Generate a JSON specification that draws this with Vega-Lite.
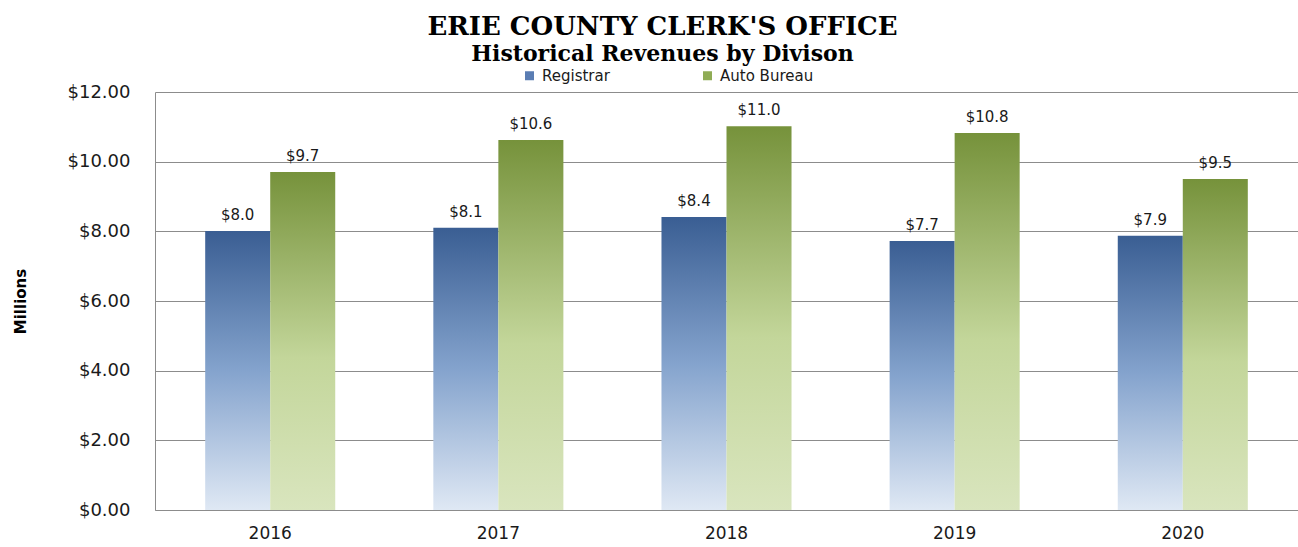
{
  "$schema": "https://vega.github.io/schema/vega-lite/v6.json",
  "autosize": {"type": "none"},
  "width": 1143,
  "height": 418,
  "padding": {"left": 155, "top": 92, "right": 0, "bottom": 37},
  "background": "white",
  "title": {
    "text": "ERIE COUNTY CLERK'S OFFICE",
    "subtitle": "Historical Revenues by Divison",
    "anchor": "middle",
    "frame": "group",
    "dx": -64,
    "offset": 3,
    "font": "DejaVu Serif",
    "fontSize": 26,
    "fontWeight": "bold",
    "color": "#000000",
    "subtitleFont": "DejaVu Serif",
    "subtitleFontSize": 22,
    "subtitleFontWeight": "bold",
    "subtitleColor": "#000000",
    "subtitlePadding": 4
  },
  "data": {
    "values": [
      {"year": "2016", "division": "Registrar", "value": 8.01},
      {"year": "2016", "division": "Auto Bureau", "value": 9.70},
      {"year": "2017", "division": "Registrar", "value": 8.10},
      {"year": "2017", "division": "Auto Bureau", "value": 10.62},
      {"year": "2018", "division": "Registrar", "value": 8.41},
      {"year": "2018", "division": "Auto Bureau", "value": 11.02},
      {"year": "2019", "division": "Registrar", "value": 7.72},
      {"year": "2019", "division": "Auto Bureau", "value": 10.82},
      {"year": "2020", "division": "Registrar", "value": 7.87},
      {"year": "2020", "division": "Auto Bureau", "value": 9.50}
    ]
  },
  "encoding": {
    "x": {
      "field": "year",
      "type": "nominal",
      "scale": {"paddingInner": 0.43, "paddingOuter": 0.22},
      "axis": {
        "title": null,
        "labelAngle": 0,
        "ticks": false,
        "labelPadding": 15,
        "labelFont": "DejaVu Sans",
        "labelFontSize": 17,
        "labelColor": "#1a1a1a",
        "domainColor": "#8c8c8c",
        "grid": false
      }
    },
    "xOffset": {"field": "division", "type": "nominal", "scale": {"domain": ["Registrar", "Auto Bureau"], "paddingInner": 0, "paddingOuter": 0}},
    "y": {
      "field": "value",
      "type": "quantitative",
      "scale": {"domain": [0, 12], "nice": false},
      "axis": {
        "title": "Millions",
        "titleFont": "DejaVu Sans",
        "titleFontSize": 15,
        "titleFontWeight": "bold",
        "titleColor": "#000000",
        "titleX": -135,
        "titleY": 209,
        "titleAngle": -90,
        "titleAlign": "center",
        "titleBaseline": "middle",
        "values": [0, 2, 4, 6, 8, 10, 12],
        "format": "$.2f",
        "ticks": false,
        "labelPadding": 25,
        "labelFont": "DejaVu Sans",
        "labelFontSize": 18,
        "labelColor": "#1a1a1a",
        "domainColor": "#8c8c8c",
        "gridColor": "#8c8c8c",
        "gridWidth": 1
      }
    }
  },
  "layer": [
    {
      "mark": {"type": "bar"},
      "encoding": {
        "color": {
          "field": "division",
          "type": "nominal",
          "scale": {"domain": ["Registrar", "Auto Bureau"], "range": ["#5a7db3", "#8fac55"]},
          "condition": [
            {"test": "datum.division === 'Registrar'", "value": {"gradient": "linear", "x1": 0, "y1": 0, "x2": 0, "y2": 1, "stops": [{"offset": 0, "color": "#3a5e93"}, {"offset": 0.5, "color": "#84a3cd"}, {"offset": 1, "color": "#dfe8f4"}]}},
            {"test": "datum.division === 'Auto Bureau'", "value": {"gradient": "linear", "x1": 0, "y1": 0, "x2": 0, "y2": 1, "stops": [{"offset": 0, "color": "#76923b"}, {"offset": 0.55, "color": "#c3d69a"}, {"offset": 1, "color": "#d9e5be"}]}}
          ],
          "legend": {
            "title": null,
            "orient": "none",
            "legendX": 367,
            "legendY": -24,
            "direction": "horizontal",
            "symbolType": "square",
            "symbolSize": 81,
            "symbolStrokeWidth": 0,
            "labelFont": "DejaVu Sans",
            "labelFontSize": 15,
            "labelColor": "#1a1a1a",
            "labelOffset": 5,
            "columnPadding": 90,
            "encode": {
              "symbols": {
                "update": {
                  "fill": {"signal": "datum.value === 'Registrar' ? {gradient: 'linear', x1: 0, y1: 0, x2: 0, y2: 1, stops: [{offset: 0, color: '#3a5e93'}, {offset: 1, color: '#b9cce6'}]} : {gradient: 'linear', x1: 0, y1: 0, x2: 0, y2: 1, stops: [{offset: 0, color: '#76923b'}, {offset: 1, color: '#c3d69a'}]}"}
                }
              }
            }
          }
        }
      }
    },
    {
      "mark": {"type": "text", "baseline": "bottom", "dy": -8, "font": "DejaVu Sans", "fontSize": 15, "color": "#1a1a1a"},
      "encoding": {
        "text": {"field": "value", "type": "quantitative", "format": "$.1f"}
      }
    }
  ],
  "config": {
    "view": {"stroke": null}
  }
}
